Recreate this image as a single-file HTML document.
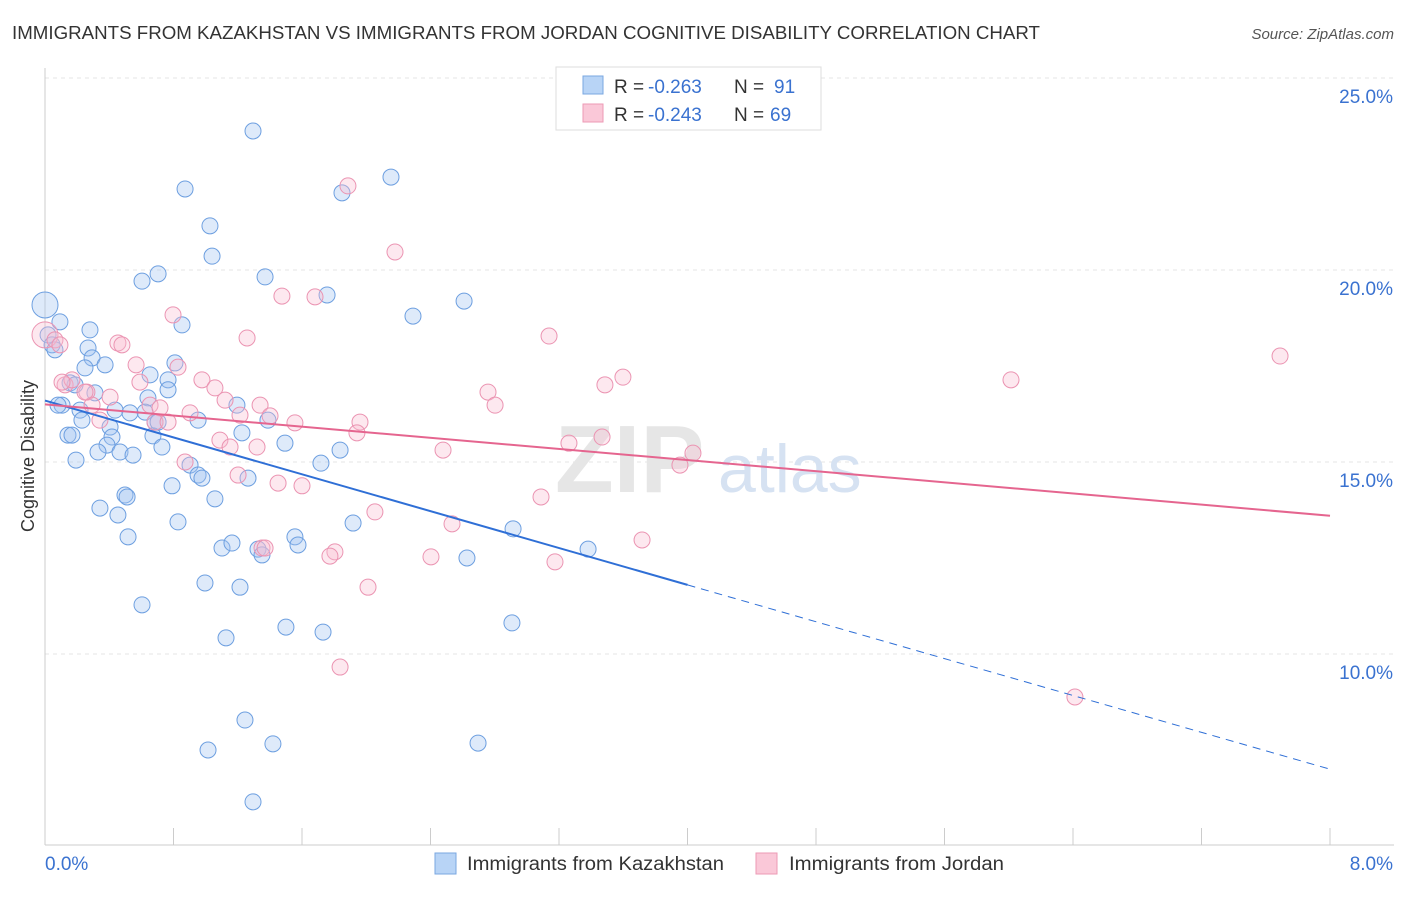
<!DOCTYPE html>
<html><head><meta charset="utf-8"><style>
body{margin:0;background:#fff;font-family:"Liberation Sans",sans-serif;}
svg text{font-family:"Liberation Sans",sans-serif;}
</style></head><body>
<svg id="chart" width="1406" height="892" xmlns="http://www.w3.org/2000/svg">
<text x="12" y="39" font-size="18" fill="#333" textLength="1028" lengthAdjust="spacingAndGlyphs">IMMIGRANTS FROM KAZAKHSTAN VS IMMIGRANTS FROM JORDAN COGNITIVE DISABILITY CORRELATION CHART</text>
<text x="1394" y="39" font-size="15" fill="#555" text-anchor="end" font-style="italic">Source: ZipAtlas.com</text>
<text transform="translate(34,456) rotate(-90)" font-size="18" fill="#333" text-anchor="middle">Cognitive Disability</text>
<g id="grid"></g>
<text x="555" y="492" font-size="96" fill="#e6e6e6" font-family="Liberation Serif" font-weight="bold">ZIP</text>
<text x="718" y="492" font-size="68" fill="#d6e2f2">atlas</text>
<line x1="45" y1="845" x2="1394" y2="845" stroke="#ccc"/>
<line x1="45" y1="68" x2="45" y2="845" stroke="#ccc"/>
<g id="ticks"></g>
<g id="blue"></g><g id="pink"></g><g id="lines"></g>
<g>
<rect x="556" y="67" width="265" height="63" fill="#fff" stroke="#ddd"/>
<rect x="583" y="76" width="20" height="18" fill="#b8d4f6" stroke="#7aa7e0"/>
<rect x="583" y="104" width="20" height="18" fill="#fac8d8" stroke="#ec9ab5"/>
<text x="614" y="93" font-size="19" fill="#333">R = </text>
<text x="648" y="93" font-size="19" fill="#3a72d0">-0.263</text>
<text x="734" y="93" font-size="19" fill="#333">N = </text>
<text x="774" y="93" font-size="19" fill="#3a72d0">91</text>
<text x="614" y="121" font-size="19" fill="#333">R = </text>
<text x="648" y="121" font-size="19" fill="#3a72d0">-0.243</text>
<text x="734" y="121" font-size="19" fill="#333">N = </text>
<text x="770" y="121" font-size="19" fill="#3a72d0">69</text>
</g>
<g>
<rect x="435" y="853" width="21" height="21" fill="#b8d4f6" stroke="#7aa7e0"/>
<text x="467" y="870" font-size="19" fill="#333" textLength="257" lengthAdjust="spacingAndGlyphs">Immigrants from Kazakhstan</text>
<rect x="756" y="853" width="21" height="21" fill="#fac8d8" stroke="#ec9ab5"/>
<text x="789" y="870" font-size="19" fill="#333" textLength="215" lengthAdjust="spacingAndGlyphs">Immigrants from Jordan</text>
</g>
</svg>
<script>
const yTicks=[10,15,20,25];
const xTickLabels=["0.0%","8.0%"];
const bluePx=[[45,305],[48,335],[52,345],[55,350],[60,322],[90,330],[88,348],[92,358],[105,365],[85,368],[70,383],[75,385],[62,405],[58,405],[80,410],[95,393],[82,420],[68,435],[72,435],[110,427],[112,437],[107,445],[98,452],[120,452],[133,455],[76,460],[115,410],[150,375],[168,380],[175,363],[182,325],[168,390],[148,398],[145,412],[130,413],[155,422],[158,422],[153,436],[162,447],[190,465],[198,475],[202,478],[172,486],[125,495],[127,497],[215,499],[100,508],[118,515],[128,537],[178,522],[222,548],[232,543],[142,605],[205,583],[240,587],[258,549],[262,555],[295,537],[298,545],[226,638],[286,627],[323,632],[245,720],[208,750],[273,744],[253,802],[478,743],[512,623],[467,558],[513,529],[353,523],[588,549],[321,463],[340,450],[285,443],[268,420],[242,433],[248,478],[237,405],[198,420],[185,189],[210,226],[212,256],[158,274],[142,281],[265,277],[253,131],[342,193],[391,177],[327,295],[413,316],[464,301]];
const pinkPx=[[45,335],[55,340],[60,345],[65,385],[72,380],[62,382],[87,392],[92,405],[85,392],[110,397],[100,420],[118,343],[122,345],[136,365],[140,382],[150,405],[160,408],[155,422],[168,422],[173,315],[178,367],[185,462],[190,413],[202,380],[215,388],[225,400],[220,440],[230,447],[238,475],[247,338],[260,405],[270,416],[262,548],[265,548],[282,296],[278,483],[302,486],[295,423],[315,297],[348,186],[395,252],[335,552],[330,556],[340,667],[368,587],[360,422],[357,433],[375,512],[443,450],[431,557],[452,524],[488,392],[495,405],[541,497],[549,336],[555,562],[569,443],[602,437],[605,385],[623,377],[642,540],[680,465],[693,453],[1011,380],[1280,356],[1075,697],[257,447],[240,415]];
// data arrays: [x %, y %]
const blueData=bluePx.map(p=>[+((p[0]-45)/1285*8).toFixed(3),+(25-(p[1]-78)/38.4).toFixed(2)]);
const pinkData=pinkPx.map(p=>[+((p[0]-45)/1285*8).toFixed(3),+(25-(p[1]-78)/38.4).toFixed(2)]);
const blueTrend=[[0,16.6],[4.0,11.8],[8,7.0]];
const pinkTrend=[[0,16.5],[8,13.6]];
const X=v=>45+v/8*1285, Y=v=>78+(25-v)*38.4;
const NS="http://www.w3.org/2000/svg";
function mk(t,a,p){const e=document.createElementNS(NS,t);for(const k in a)e.setAttribute(k,a[k]);document.getElementById(p).appendChild(e);return e;}
yTicks.forEach(v=>{
 const l=mk('line',{x1:45,x2:1394,y1:Y(v),y2:Y(v),stroke:'#e4e4e4','stroke-dasharray':'4,4'},'grid');
 
 
 const t=mk('text',{x:1393,y:Y(v)+25,'font-size':19,fill:'#3a72d0','text-anchor':'end'},'ticks');t.textContent=v.toFixed(1)+'%';
 
 
});
for(let i=0;i<=10;i++){const x=45+i*128.5;const l=mk('line',{x1:x,x2:x,y1:828,y2:845,stroke:'#ccc'},'ticks');
 
 }
[[45,'start',0],[1393,'end',1]].forEach(([x,a,i])=>{const t=mk('text',{x:x,y:870,'font-size':19,fill:'#3a72d0','text-anchor':a},'ticks');t.textContent=xTickLabels[i];
 
 });
blueData.forEach((d,i)=>{const c=mk('circle',{cx:X(d[0]),cy:Y(d[1]),r:i==0?13:8,fill:'rgba(160,196,240,0.35)',stroke:'#6d9fe0','stroke-width':1},'blue');
 
 });
pinkData.forEach((d,i)=>{const c=mk('circle',{cx:X(d[0]),cy:Y(d[1]),r:i==0?13:8,fill:'rgba(248,190,210,0.35)',stroke:'#eb94b2','stroke-width':1},'pink');
 
 });
let l=mk('line',{x1:X(blueTrend[0][0]),y1:Y(blueTrend[0][1]),x2:X(blueTrend[1][0]),y2:Y(blueTrend[1][1]),stroke:'#2f6fd6','stroke-width':2},'lines');


l=mk('line',{x1:X(blueTrend[1][0]),y1:Y(blueTrend[1][1]),x2:X(blueTrend[2][0]),y2:Y(blueTrend[2][1]),stroke:'#2f6fd6','stroke-width':1,'stroke-dasharray':'8,6'},'lines');


l=mk('line',{x1:X(pinkTrend[0][0]),y1:Y(pinkTrend[0][1]),x2:X(pinkTrend[1][0]),y2:Y(pinkTrend[1][1]),stroke:'#e5658f','stroke-width':2},'lines');


</script>
</body></html>
